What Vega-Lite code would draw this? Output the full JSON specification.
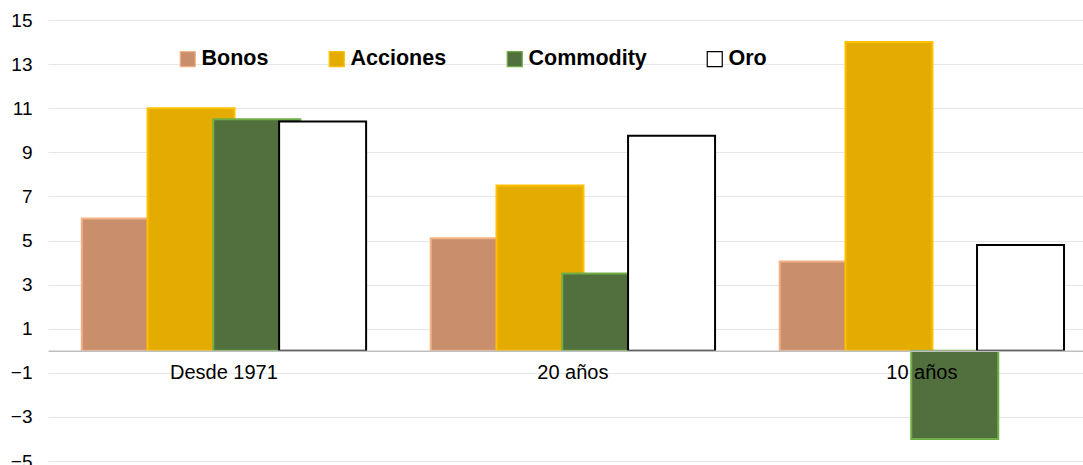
{
  "$schema": "https://vega.github.io/schema/vega-lite/v6.json",
  "width": 1035,
  "height": 441,
  "autosize": "none",
  "padding": {"left": 48, "top": 20, "right": 0, "bottom": 4},
  "background": "white",
  "data": {
    "values": [
      {"periodo": "Desde 1971", "serie": "Bonos", "valor": 6.0},
      {"periodo": "20 años", "serie": "Bonos", "valor": 5.1},
      {"periodo": "10 años", "serie": "Bonos", "valor": 4.05},
      {"periodo": "Desde 1971", "serie": "Acciones", "valor": 11.0},
      {"periodo": "20 años", "serie": "Acciones", "valor": 7.5},
      {"periodo": "10 años", "serie": "Acciones", "valor": 14.0},
      {"periodo": "Desde 1971", "serie": "Commodity", "valor": 10.5},
      {"periodo": "20 años", "serie": "Commodity", "valor": 3.5},
      {"periodo": "10 años", "serie": "Commodity", "valor": -4.0},
      {"periodo": "Desde 1971", "serie": "Oro", "valor": 10.4},
      {"periodo": "20 años", "serie": "Oro", "valor": 9.75},
      {"periodo": "10 años", "serie": "Oro", "valor": 4.8}
    ]
  },
  "mark": {"type": "bar", "width": 87, "strokeWidth": 2},
  "encoding": {
    "x": {
      "field": "periodo",
      "type": "nominal",
      "sort": ["Desde 1971", "20 años", "10 años"],
      "scale": {"paddingInner": 0.246, "paddingOuter": 0.106, "align": 0.6},
      "axis": {
        "title": null,
        "labelAngle": 0,
        "ticks": false,
        "offset": -110.25,
        "zindex": 1,
        "domainColor": "#BFBFBF",
        "domainWidth": 1.5,
        "labelFont": "Liberation Sans",
        "labelFontSize": 20,
        "labelColor": "#000000",
        "labelPadding": 12
      }
    },
    "xOffset": {
      "field": "serie",
      "type": "nominal",
      "sort": ["Bonos", "Acciones", "Commodity", "Oro"],
      "scale": {"paddingInner": 0, "paddingOuter": 0}
    },
    "y": {
      "field": "valor",
      "type": "quantitative",
      "stack": null,
      "scale": {"domain": [-5, 15], "nice": false, "zero": false},
      "axis": {
        "title": null,
        "values": [-5, -3, -1, 1, 3, 5, 7, 9, 11, 13, 15],
        "domain": false,
        "ticks": false,
        "gridColor": "#E6E6E6",
        "gridWidth": 1.2,
        "labelFont": "Liberation Sans",
        "labelFontSize": 19,
        "labelColor": "#000000",
        "labelPadding": 16
      }
    },
    "color": {
      "field": "serie",
      "type": "nominal",
      "sort": ["Bonos", "Acciones", "Commodity", "Oro"],
      "scale": {
        "domain": ["Bonos", "Acciones", "Commodity", "Oro"],
        "range": ["#C98F6C", "#E4AC00", "#52703D", "#FFFFFF"]
      },
      "legend": {
        "title": null,
        "orient": "none",
        "direction": "horizontal",
        "legendX": 129,
        "legendY": 28,
        "symbolType": "square",
        "symbolSize": 225,
        "symbolStrokeWidth": 1.2,
        "labelFont": "Liberation Sans",
        "labelFontWeight": "bold",
        "labelFontSize": 21.5,
        "labelColor": "#000000",
        "labelOffset": 3,
        "columnPadding": 57
      }
    },
    "stroke": {
      "field": "serie",
      "type": "nominal",
      "sort": ["Bonos", "Acciones", "Commodity", "Oro"],
      "scale": {
        "domain": ["Bonos", "Acciones", "Commodity", "Oro"],
        "range": ["#F4B183", "#FFC000", "#70AD47", "#000000"]
      },
      "legend": null
    }
  },
  "config": {
    "view": {"stroke": null}
  }
}
